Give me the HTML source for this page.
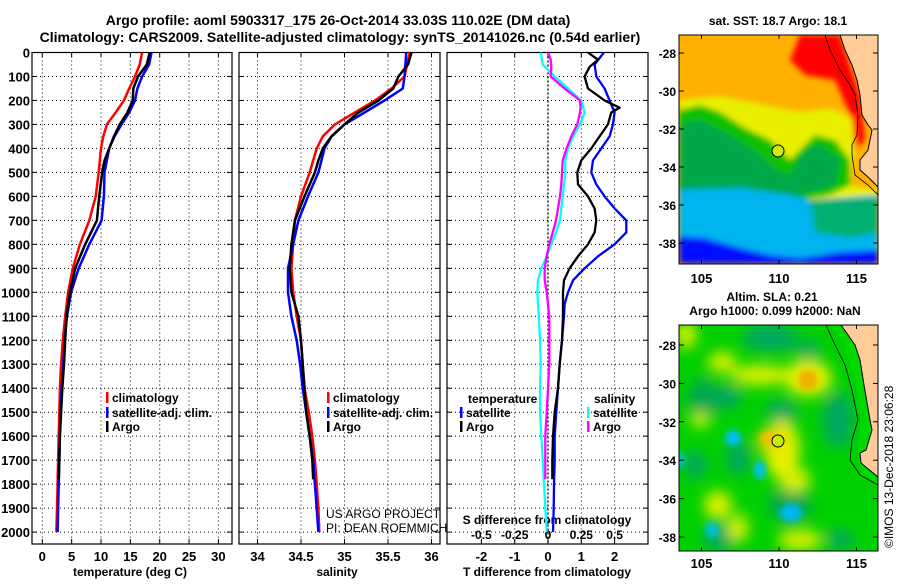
<!DOCTYPE html>
<html><head><meta charset="utf-8">
<style>
html,body{margin:0;padding:0;background:#fff;}
body{width:900px;height:580px;overflow:hidden;font-family:"Liberation Sans",sans-serif;}
svg text{font-family:"Liberation Sans",sans-serif;}
</style></head>
<body>
<svg id="fig" width="900" height="580" viewBox="0 0 900 580" xmlns="http://www.w3.org/2000/svg">
<defs>
 <clipPath id="c1"><rect x="32" y="52.5" width="200" height="491.5"/></clipPath>
 <clipPath id="c2"><rect x="239" y="52.5" width="201" height="491.5"/></clipPath>
 <clipPath id="c3"><rect x="447" y="52.5" width="201" height="491.5"/></clipPath>
 <clipPath id="m1"><rect x="679" y="35" width="199" height="229"/></clipPath>
 <clipPath id="m2"><rect x="679" y="325" width="199" height="226"/></clipPath>
 <filter id="bl" x="-20%" y="-20%" width="140%" height="140%"><feGaussianBlur stdDeviation="7"/></filter>
 <filter id="bl2" x="-20%" y="-20%" width="140%" height="140%"><feGaussianBlur stdDeviation="3"/></filter>
</defs>
<g font-weight="bold" font-size="14" text-anchor="middle" fill="#000">
 <text x="338" y="25">Argo profile: aoml 5903317_175 26-Oct-2014 33.03S 110.02E (DM data)</text>
 <text x="340" y="42">Climatology: CARS2009. Satellite-adjusted climatology: synTS_20141026.nc (0.54d earlier)</text>
</g>

<!-- Map 1: SST -->
<g clip-path="url(#m1)">
 <rect x="679" y="35" width="199" height="229" fill="#ffb000"/>
 <g filter="url(#bl2)">
 <path d="M800,35 L840,35 L860,95 L865,140 L855,150 L848,110 L835,80 L805,75 L790,60 Z" fill="#ff0000"/>
 <path d="M679,100 L720,96 L760,104 L800,112 L830,108 L852,118 L855,150 L850,185 L878,190 L878,210 L679,205 Z" fill="#e8f000"/>
 <path d="M679,110 L700,105 L720,112 L745,128 L770,140 L790,160 L800,150 L815,135 L835,140 L850,160 L850,185 L830,195 L800,200 L679,200 Z" fill="#10c000"/>
 <path d="M679,125 L700,120 L730,135 L760,155 L775,170 L790,175 L805,150 L820,145 L840,160 L835,185 L800,195 L679,198 Z" fill="#00a848"/>
 <path d="M679,190 L740,188 L790,195 L810,200 L878,195 L878,264 L679,264 Z" fill="#00b4f0"/>
 <path d="M810,200 L878,198 L878,232 L850,238 L815,232 Z" fill="#00b070"/>
 <path d="M679,236 L705,238 L740,248 L770,255 L800,258 L840,252 L878,250 L878,264 L679,264 Z" fill="#0010ff"/>
 </g>
 <path d="M840,35 L845,50 L852,65 L857,80 L860,95 L862,115 L868,125 L872,130 L868,150 L860,160 L860,170 L868,177 L878,187 L878,35 Z" fill="#ffcc99" stroke="#000" stroke-width="1"/>
 <path d="M825,35 L830,50 L840,70 L850,85 L855,95 L858,115 L857,135 L852,145 L852,155 L855,175 L868,185 L878,195" fill="none" stroke="#000" stroke-width="0.8"/>
 <circle cx="778" cy="151" r="6" fill="#c8f000" stroke="#000" stroke-width="1"/>
</g>
<rect x="679" y="35" width="199" height="229" fill="none" stroke="#000" stroke-width="1"/>

<!-- Map 2: SLA -->
<g clip-path="url(#m2)">
 <rect x="679" y="325" width="199" height="226" fill="#00d000"/>
 <g filter="url(#bl)">
  <ellipse cx="770" cy="338" rx="28" ry="14" fill="#00a860"/>
  <ellipse cx="808" cy="350" rx="12" ry="10" fill="#00a860"/>
  <ellipse cx="703" cy="400" rx="16" ry="22" fill="#00a850"/>
  <ellipse cx="728" cy="397" rx="14" ry="12" fill="#00a860"/>
  <ellipse cx="782" cy="412" rx="16" ry="12" fill="#00a860"/>
  <ellipse cx="838" cy="420" rx="16" ry="28" fill="#00a860"/>
  <ellipse cx="790" cy="505" rx="22" ry="18" fill="#00a850"/>
  <ellipse cx="720" cy="538" rx="16" ry="14" fill="#00a860"/>
  <ellipse cx="840" cy="540" rx="14" ry="10" fill="#00a860"/>
  <ellipse cx="695" cy="465" rx="12" ry="14" fill="#00a860"/>
  <ellipse cx="738" cy="458" rx="12" ry="18" fill="#00a860"/>
  <ellipse cx="760" cy="375" rx="30" ry="10" fill="#e0f000"/>
  <ellipse cx="722" cy="362" rx="14" ry="10" fill="#e0f000"/>
  <ellipse cx="808" cy="378" rx="24" ry="18" fill="#e8f000"/>
  <ellipse cx="782" cy="450" rx="18" ry="30" fill="#e8f000"/>
  <ellipse cx="770" cy="440" rx="14" ry="10" fill="#f0d000"/>
  <ellipse cx="795" cy="480" rx="16" ry="12" fill="#d8f000"/>
  <ellipse cx="718" cy="505" rx="14" ry="14" fill="#e0f000"/>
  <ellipse cx="738" cy="528" rx="10" ry="14" fill="#e0f000"/>
  <ellipse cx="686" cy="335" rx="10" ry="14" fill="#e0f000"/>
  <ellipse cx="800" cy="540" rx="22" ry="10" fill="#e0f000"/>
  <ellipse cx="700" cy="420" rx="10" ry="8" fill="#c8f000"/>
 </g>
 <g filter="url(#bl2)">
  <ellipse cx="808" cy="380" rx="10" ry="10" fill="#f0b000"/>
  <ellipse cx="768" cy="438" rx="7" ry="6" fill="#f0c000"/>
  <ellipse cx="733" cy="438" rx="8" ry="8" fill="#00c0f0"/>
  <ellipse cx="760" cy="470" rx="6" ry="9" fill="#00c0f0"/>
  <ellipse cx="791" cy="513" rx="11" ry="9" fill="#00b8f0"/>
  <ellipse cx="712" cy="530" rx="7" ry="8" fill="#00c0d0"/>
  <ellipse cx="680" cy="460" rx="5" ry="8" fill="#00c0c0"/>
 </g>
 <path d="M830,325 L845,345 L855,380 L860,420 L858,445 L860,470 L878,485 L878,325 Z" fill="#00d800"/>
 <path d="M841,325 L855,345 L860,360 L864,385 L870,420 L872,430 L866,450 L860,453 L861,463 L878,477 L878,325 Z" fill="#ffcc99" stroke="#000" stroke-width="1"/>
 <path d="M826,325 L835,345 L845,365 L852,390 L858,420 L852,440 L850,460 L860,475 L878,485" fill="none" stroke="#000" stroke-width="0.8"/>
 <circle cx="778" cy="441" r="6" fill="#c8f000" stroke="#000" stroke-width="1"/>
</g>
<rect x="679" y="325" width="199" height="226" fill="none" stroke="#000" stroke-width="1"/>

<g font-weight="bold" font-size="12" fill="#000" text-anchor="middle">
 <text x="778" y="25">sat. SST: 18.7 Argo: 18.1</text>
 <text x="772" y="301">Altim. SLA: 0.21</text>
 <text x="775" y="315">Argo h1000: 0.099 h2000: NaN</text>
</g>
<text x="0" y="0" transform="translate(893,548) rotate(-90)" font-size="12" fill="#000">©IMOS 13-Dec-2018 23:06:28</text>
<g id="axes"></g>
</svg>
<script>
// ===== Data =====
var depthTicks = [0,100,200,300,400,500,600,700,800,900,1000,1100,1200,1300,1400,1500,1600,1700,1800,1900,2000];
var tempTicks = [0,5,10,15,20,25,30];
var salTicks = [34,34.5,35,35.5,36];
var salTickLabels = ["34","34.5","35","35.5","36"];
var tdiffTicks = [-2,-1,0,1,2];
var sdiffTicks = [-0.5,-0.25,0,0.25,0.5];
var sdiffTickLabels = ["-0.5","-0.25","0","0.25","0.5"];
var latTicks = [-28,-30,-32,-34,-36,-38];
var lonTicks = [105,110,115];

var depthFull = [0,50,100,150,200,250,300,350,400,500,600,700,800,900,1000,1100,1200,1300,1400,1500,1600,1700,1800,1900,2000];
var depthArgo = [0,50,100,150,200,250,300,350,400,450,500,600,700,800,900,1000,1100,1200,1300,1400,1500,1600,1700,1780];
var tempClim = [17,16.6,15.8,14.8,13.9,12.5,11,10.4,10,9.6,9.1,8,6.4,5.2,4.4,3.9,3.5,3.2,3.0,2.9,2.8,2.7,2.6,2.5,2.4];
var tempSat = [18.6,18.2,17,16.2,15.8,14.8,13.5,12.3,11.4,10.6,10.5,10.1,8,6.2,4.9,4.2,3.8,3.6,3.3,3.1,3.0,2.9,2.8,2.7,2.6];
var tempArgo = [18.3,17.8,16.3,15.5,15.4,14.5,13.2,12.2,11.4,10.6,10.2,9.7,9.3,7.3,5.6,4.7,4.1,3.9,3.7,3.4,3.2,3.0,2.9,2.8];

var salClim = [35.75,35.72,35.69,35.54,35.35,35.12,34.89,34.75,34.68,34.6,34.5,34.43,34.41,34.39,34.41,34.45,34.5,34.52,34.54,34.59,34.63,34.66,34.68,34.70,34.71];
var salSat = [35.71,35.7,35.69,35.67,35.46,35.23,35.0,34.85,34.77,34.7,34.58,34.47,34.41,34.35,34.35,34.39,34.45,34.49,34.52,34.56,34.6,34.64,34.66,34.68,34.7];
var salArgo = [35.77,35.73,35.62,35.56,35.39,35.16,35.0,34.85,34.75,34.7,34.66,34.54,34.43,34.39,34.37,34.39,34.47,34.5,34.52,34.54,34.56,34.6,34.63,34.64];

var depthDiff = [0,50,100,150,200,250,300,350,400,450,500,550,600,650,700,750,800,850,900,950,1000,1050,1100,1200,1300,1400,1500,1600,1700,1800,1900,2000];
var tdiffSat = [1.68,1.4,1.45,1.7,1.85,2.0,1.95,1.85,1.6,1.35,1.3,1.45,1.7,2.0,2.35,2.35,2.0,1.5,1.1,0.75,0.6,0.5,0.48,0.42,0.35,0.3,0.25,0.2,0.2,0.18,0.17,0.15];
var sdiffSat = [-0.055,-0.04,0.05,0.15,0.25,0.275,0.24,0.19,0.15,0.13,0.13,0.12,0.11,0.1,0.09,0.06,0.025,-0.01,-0.05,-0.075,-0.08,-0.075,-0.07,-0.06,-0.055,-0.06,-0.06,-0.05,-0.04,-0.03,-0.02,-0.01];
var depthDiffArgo = [0,30,60,100,150,200,230,250,300,350,400,450,500,550,600,650,700,750,800,850,900,950,1000,1100,1200,1300,1400,1500,1600,1700,1780];
var tdiffArgo = [1.2,1.5,1.25,1.1,1.2,1.7,2.15,1.9,1.8,1.55,1.3,1.0,0.88,0.9,1.2,1.4,1.45,1.4,1.2,0.9,0.65,0.48,0.45,0.45,0.42,0.35,0.3,0.2,0.15,0.13,0.13];
var sdiffArgo = [0,0.02,0.025,0.02,0.125,0.24,0.245,0.24,0.22,0.175,0.14,0.11,0.105,0.1,0.09,0.075,0.06,0.035,0.01,-0.01,-0.025,-0.025,-0.01,0.01,0.01,0.01,0,-0.01,-0.02,-0.02,-0.02];

// ===== Axes functions =====
var Y0 = 52.5, YS = 0.2398, PB = 544;
function yD(d){ return Y0 + d*YS; }
function xT(t){ return 42.3 + t*5.87; }
function xS(s){ return 257.5 + (s-34)*87; }
function xTd(t){ return 548 + t*33.3; }
function xSd(s){ return 548 + s*133.2; }
function yLat1(l){ return 53 + (-28 - l)*19; }
function yLat2(l){ return 345 + (-28 - l)*19.2; }
function xLon(l){ return 779 + (l-110)*15.5; }

var NS = "http://www.w3.org/2000/svg";
var root = document.getElementById('axes');
function mk(tag, attrs, parent){
  var e = document.createElementNS(NS, tag);
  for (var k in attrs) e.setAttribute(k, attrs[k]);
  (parent||root).appendChild(e);
  return e;
}
function txt(s, x, y, anchor, parent, size, weight){
  var e = mk('text', {x:x, y:y, 'text-anchor':anchor||'middle', 'font-size':size||12, 'font-weight':weight||'bold', fill:'#000'}, parent);
  e.textContent = s;
  return e;
}

var panels = [
  {x0:32, x1:232, clip:'c1', name:'temperature-panel'},
  {x0:239, x1:440, clip:'c2', name:'salinity-panel'},
  {x0:447, x1:648, clip:'c3', name:'difference-panel'}
];
var vgrid = [tempTicks.map(xT), salTicks.map(xS), tdiffTicks.map(xTd)];

panels.forEach(function(p, i){
  var g = mk('g', {});
  
  
  p.g = g;
  depthTicks.forEach(function(d){
    var y = yD(d);
    if (d > 0) { var gl = mk('line', {x1:p.x0, x2:p.x1, y1:y, y2:y, stroke:'#000', 'stroke-width':1, 'stroke-dasharray':'1,3'}, g);
      
       }
    mk('line', {x1:p.x0, x2:p.x0+5, y1:y, y2:y, stroke:'#000'}, g);
    mk('line', {x1:p.x1-5, x2:p.x1, y1:y, y2:y, stroke:'#000'}, g);
  });
  vgrid[i].forEach(function(x){
    var gl = mk('line', {x1:x, x2:x, y1:Y0, y2:PB, stroke:'#000', 'stroke-width':1, 'stroke-dasharray':'1,3'}, g);
    
    
    mk('line', {x1:x, x2:x, y1:PB-5, y2:PB, stroke:'#000'}, g);
    mk('line', {x1:x, x2:x, y1:Y0, y2:Y0+5, stroke:'#000'}, g);
  });
  var fr = mk('rect', {x:p.x0, y:Y0, width:p.x1-p.x0, height:PB-Y0, fill:'none', stroke:'#000', 'stroke-width':1.2}, g);
  
  
});

// depth labels
var dl = mk('g', {});


depthTicks.forEach(function(d){ txt(String(d), 30, yD(d)+5, 'end', dl, 13); });

// x tick labels
var tl = mk('g', {});


tempTicks.forEach(function(t){ txt(String(t), xT(t), 561, 'middle', tl, 13); });
txt('temperature (deg C)', 130, 576, 'middle', tl, 12);
var sl = mk('g', {});


salTicks.forEach(function(s, k){ txt(salTickLabels[k], xS(s), 561, 'middle', sl, 13); });
txt('salinity', 337, 576, 'middle', sl, 12);
var dlx = mk('g', {});


tdiffTicks.forEach(function(t){ txt(String(t), xTd(t), 561, 'middle', dlx, 13); });
txt('T difference from climatology', 547, 576, 'middle', dlx, 12);
sdiffTicks.forEach(function(s, k){ txt(sdiffTickLabels[k], xSd(s), 539, 'middle', dlx, 12); });
txt('S difference from climatology', 547, 524, 'middle', dlx, 12);

// zero line in diff panel
var z = mk('line', {x1:xTd(0), x2:xTd(0), y1:Y0, y2:PB, stroke:'#000', 'stroke-width':1.3, 'stroke-dasharray':'2,2'}, panels[2].g);



function series(vals, depths, xf, color, clip, name, w){
  var pts = [];
  for (var k=0;k<vals.length;k++) pts.push(xf(vals[k]).toFixed(1)+','+yD(depths[k]).toFixed(1));
  var pl = mk('polyline', {points:pts.join(' '), fill:'none', stroke:color, 'stroke-width':w||2.5, 'stroke-linejoin':'round', 'clip-path':'url(#'+clip+')'});
  
  
}
series(tempClim, depthFull, xT, '#ff0000', 'c1', 'temperature-climatology-line');
series(tempSat, depthFull, xT, '#0000ff', 'c1', 'temperature-satellite-line');
series(tempArgo, depthArgo, xT, '#000000', 'c1', 'temperature-argo-line');
series(salClim, depthFull, xS, '#ff0000', 'c2', 'salinity-climatology-line');
series(salSat, depthFull, xS, '#0000ff', 'c2', 'salinity-satellite-line');
series(salArgo, depthArgo, xS, '#000000', 'c2', 'salinity-argo-line');
series(sdiffSat, depthDiff, xSd, '#00ffff', 'c3', 'sdiff-satellite-line', 2.3);
series(sdiffArgo, depthDiffArgo, xSd, '#ff00ff', 'c3', 'sdiff-argo-line', 2.3);
series(tdiffSat, depthDiff, xTd, '#0000ff', 'c3', 'tdiff-satellite-line', 2.3);
series(tdiffArgo, depthDiffArgo, xTd, '#000000', 'c3', 'tdiff-argo-line', 2.3);

// legends
function legend(x, y, color, label, name){
  var g = mk('g', {});
  
  
  mk('rect', {x:x, y:y-10, width:2.5, height:11, fill:color}, g);
  txt(label, x+6, y, 'start', g, 12);
}
legend(106, 402, '#ff0000', 'climatology', 'legend-entry-climatology');
legend(106, 417, '#0000ff', 'satellite-adj. clim.', 'legend-entry-satellite');
legend(106, 431, '#000000', 'Argo', 'legend-entry-argo');
legend(327, 402, '#ff0000', 'climatology', 'legend-entry-climatology-sal');
legend(327, 417, '#0000ff', 'satellite-adj. clim.', 'legend-entry-satellite-sal');
legend(327, 431, '#000000', 'Argo', 'legend-entry-argo-sal');
txt('temperature', 468, 403, 'start', panels[2].g, 12);
legend(460, 417, '#0000ff', 'satellite', 'legend-entry-tdiff-satellite');
legend(460, 431, '#000000', 'Argo', 'legend-entry-tdiff-argo');
txt('salinity', 594, 403, 'start', panels[2].g, 12);
legend(587, 417, '#00ffff', 'satellite', 'legend-entry-sdiff-satellite');
legend(587, 431, '#ff00ff', 'Argo', 'legend-entry-sdiff-argo');

var cr = mk('g', {});


txt('US ARGO PROJECT', 326, 518, 'start', cr, 12, 'normal');
txt('PI: DEAN ROEMMICH', 326, 532, 'start', cr, 12, 'normal');

// map axes
function mapAxes(yf, top, bottom, lonY, name){
  var g = mk('g', {});
  
  
  latTicks.forEach(function(l){
    var y = yf(l);
    mk('line', {x1:679, x2:684, y1:y, y2:y, stroke:'#000'}, g);
    mk('line', {x1:873, x2:878, y1:y, y2:y, stroke:'#000'}, g);
    txt(String(l), 676, y+5, 'end', g, 12);
  });
  lonTicks.forEach(function(l){
    var x = xLon(l);
    mk('line', {x1:x, x2:x, y1:top, y2:top+4, stroke:'#000'}, g);
    mk('line', {x1:x, x2:x, y1:bottom-4, y2:bottom, stroke:'#000'}, g);
    txt(String(l), x, lonY, 'middle', g, 13);
  });
}
mapAxes(yLat1, 35, 264, 283, 'sst-map-axes');
mapAxes(yLat2, 325, 551, 568, 'sla-map-axes');
</script>
</body></html>
